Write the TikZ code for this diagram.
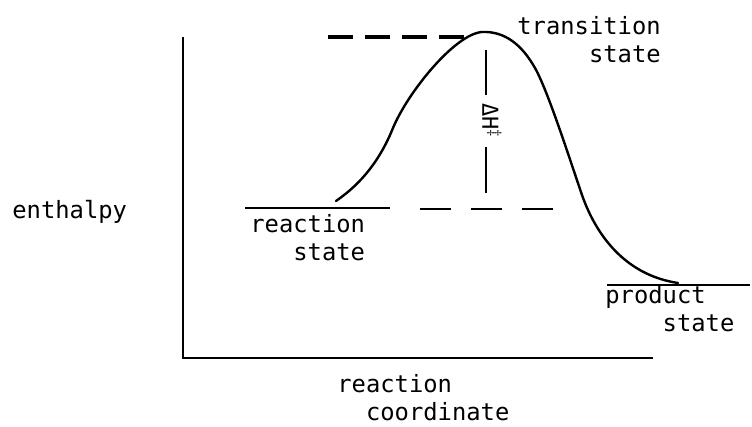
\documentclass[tikz,border=0pt]{standalone}
\usepackage{fontspec}
\setmonofont{DejaVu Sans Mono}
\usepackage{tikz}

\begin{document}
\begin{tikzpicture}[x=0.5pt, y=-0.5pt, font=\ttfamily\fontsize{11.9}{14}\selectfont]
  \tikzstyle{textlabel} = [inner sep=0pt, align=left, anchor=west]
  \tikzstyle{axisline} = [line width=1pt]
  \tikzstyle{stateline} = [line width=0.9pt]
  \tikzstyle{guideline} = [line width=0.9pt, dash pattern=on 15.5pt off 10pt]
  \tikzstyle{peakline} = [line width=1.7pt, dash pattern=on 12.5pt off 6pt]
  \tikzstyle{pathcurve} = [line width=1.2pt, line cap=round, line join=round]

  \useasboundingbox (0,0) rectangle (752,427);

  % axes
  \coordinate (ytop) at (183,37);
  \coordinate (origin) at (183,358);
  \coordinate (xend) at (653,358);
  \draw[axisline] (ytop) -- (origin) -- (xend);

  % energy levels
  \coordinate (reactA) at (245,208);
  \coordinate (reactB) at (390,208);
  \coordinate (guideA) at (420,209);
  \coordinate (guideB) at (553,209);
  \coordinate (peakA) at (328,37);
  \coordinate (peakB) at (468,37);
  \coordinate (prodA) at (607,285);
  \coordinate (prodB) at (750,285);
  \draw[stateline] (reactA) -- (reactB);
  \draw[guideline] (guideA) -- (guideB);
  \draw[peakline] (peakA) -- (peakB);
  \draw[stateline] (prodA) -- (prodB);

  % reaction path
  \coordinate (pathstart) at (336,201);
  \coordinate (pathtop) at (482,32);
  \coordinate (pathend) at (678,283);
  \draw[pathcurve] (pathstart) .. controls (362,183) and (380,160) .. (393,128)
    .. controls (408,92) and (455,34) .. (pathtop)
    .. controls (505,31) and (522,45) .. (535,68)
    .. controls (548,91) and (570,160) .. (582,195)
    .. controls (596,235) and (625,275) .. (pathend);

  % activation enthalpy
  \coordinate (dhtop) at (486,50);
  \coordinate (dhbot) at (486,193);
  \node[rotate=-90, inner xsep=4pt, inner ysep=0pt, font=\ttfamily\fontsize{11}{12}\selectfont] (dH) at (492,121) {ΔH$^{\ddagger}$};
  \draw[stateline] (dhtop) -- (dhtop |- dH.west);
  \draw[stateline] (dhtop |- dH.east) -- (dhbot);

  % labels
  \node[textlabel] (enthalpy) at (12,212) {enthalpy};
  \node[textlabel] (reactlabel) at (250,238) {reaction\\\phantom{rea}state};
  \node[textlabel] (translabel) at (517,40) {transition\\\phantom{trans}state};
  \node[textlabel] (prodlabel) at (605,311) {product\\\phantom{prod}state};
  \node[textlabel] (coordlabel) at (337,398) {reaction\\\phantom{re}coordinate};
\end{tikzpicture}
\end{document}
